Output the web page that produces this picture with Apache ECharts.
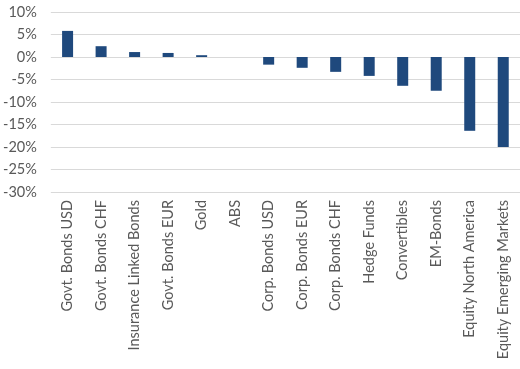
<!DOCTYPE html>
<html><head><meta charset="utf-8">
<script src="https://cdn.jsdelivr.net/npm/echarts@6/dist/echarts.min.js"></script>
<style>html,body{margin:0;padding:0;background:#fff}#c{width:520px;height:369px}</style>
</head><body><div id="c"></div>
<script>
const categories = ["Govt. Bonds USD","Govt. Bonds CHF","Insurance Linked Bonds","Govt. Bonds EUR","Gold","ABS","Corp. Bonds USD","Corp. Bonds EUR","Corp. Bonds CHF","Hedge Funds","Convertibles","EM-Bonds","Equity North America","Equity Emerging Markets"];
const values = [5.8, 2.4, 1.1, 0.9, 0.4, 0, -1.7, -2.4, -3.3, -4.2, -6.4, -7.5, -16.4, -20.0];
const yTicks = {min: -30, max: 10, interval: 5};

const chart = echarts.init(document.getElementById('c'));
chart.setOption({
  animation: false,
  grid: {left: 48, right: 0, top: 12, bottom: 177, containLabel: false},
  xAxis: {
    type: 'category', data: categories,
    axisLine: {show: false, onZero: false},
    axisTick: {show: false},
    axisLabel: {rotate: 90, interval: 0, margin: 8, color: '#595959', fontFamily: 'Lato', fontSize: 14.5}
  },
  yAxis: {
    type: 'value', min: yTicks.min, max: yTicks.max, interval: yTicks.interval,
    axisLabel: {formatter: v => v + '%', color: '#595959', fontFamily: 'Lato', fontSize: 14.5, margin: 14},
    splitLine: {lineStyle: {color: '#d9d9d9', width: 1}},
    axisLine: {show: false}, axisTick: {show: false}
  },
  series: [{type: 'bar', data: values, barWidth: 11, itemStyle: {color: '#1f497d'}}]
});
</script></body></html>
